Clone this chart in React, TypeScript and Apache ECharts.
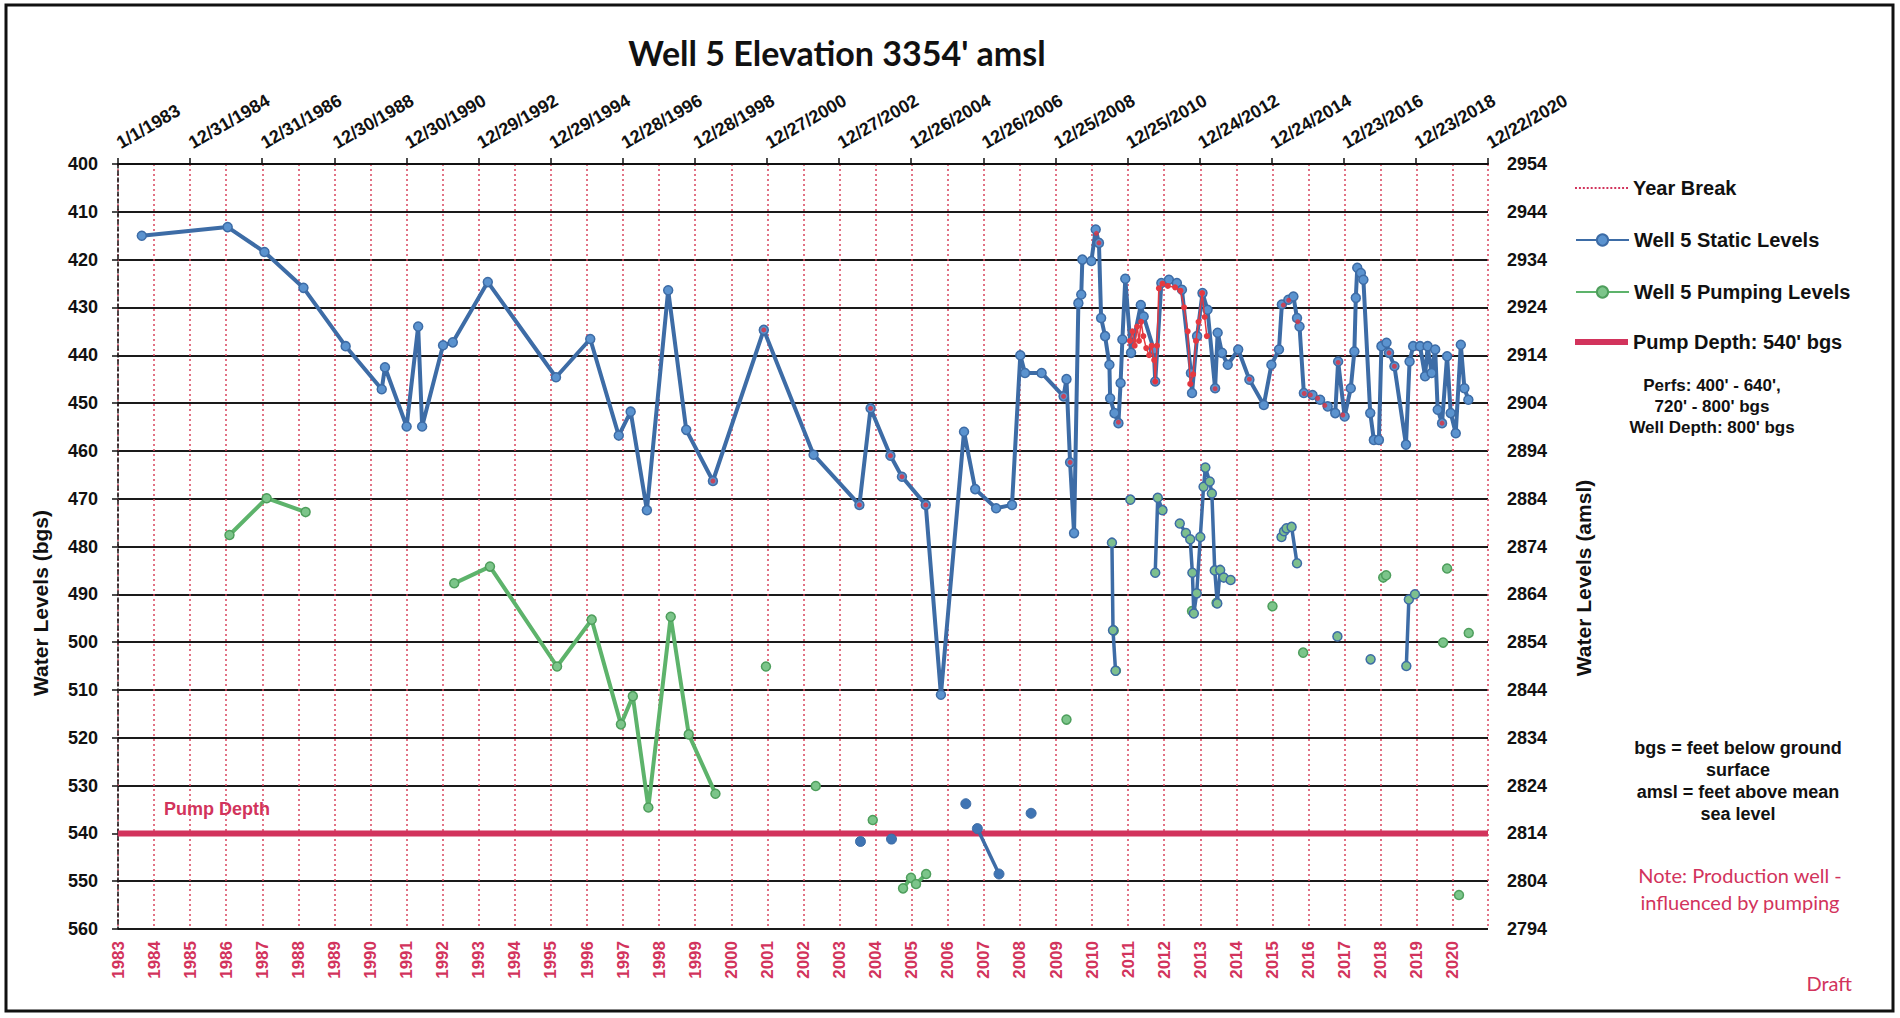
import React, { useEffect, useRef } from "react";
import * as echarts from "echarts";

// ---------- axis constants ----------
const X_MIN_DAYS = 0; // 1/1/1983
const X_MAX_DAYS = 13870; // 12/22/2020
const TOP_TICK_DAYS = 730;
const YEAR_DAYS = 365.25;
const BASE_YEAR = 1983;
const DEPTH_MIN = 400;
const DEPTH_MAX = 560;
const DEPTH_STEP = 10;
const ELEVATION = 3354;
const PUMP_DEPTH = 540;

// ---------- data (decimal year, depth bgs); null = gap ----------
const staticYears = [
  1983.66, 1986.04, 1987.06, 1988.14, 1989.31, 1990.31, 1990.4, 1991.0, 1991.32, 1991.43,
  1992.01, 1992.28, 1993.25, 1995.14, 1996.09, 1996.88, 1997.21, 1997.66, 1998.25, 1998.75,
  1999.49, 2000.9, 2002.28, 2003.55, 2003.86, 2004.41, 2004.73, 2005.39, 2005.81, 2006.45,
  2006.76, 2007.34, 2007.78, 2008.01, 2008.14, 2008.6, 2009.21, 2009.29, 2009.39, 2009.5,
  2009.62, 2009.7, 2009.73, 2009.98, 2010.1, 2010.19, 2010.25, 2010.36, 2010.48, 2010.5,
  2010.62, 2010.73, 2010.79, 2010.84, 2010.92, 2011.08, 2011.35, 2011.43, 2011.71, 2011.75,
  2011.92, 2012.13, 2012.35, 2012.49, 2012.74, 2012.77, 2012.91, 2013.06, 2013.2, 2013.41,
  2013.48, 2013.6, 2013.76, 2014.05, 2014.36, 2014.76, 2014.97, 2015.18, 2015.26, 2015.44,
  2015.58, 2015.68, 2015.75, 2015.87, 2016.11, 2016.32, 2016.53, 2016.74, 2016.82, 2017.0,
  2017.17, 2017.27, 2017.31, 2017.35, 2017.45, 2017.52, 2017.71, 2017.81, 2017.95, 2018.02,
  2018.16, 2018.23, 2018.38, 2018.7, 2018.8, 2018.9, 2019.09, 2019.23, 2019.3, 2019.41,
  2019.51, 2019.58, 2019.7, 2019.84, 2019.94, 2020.08, 2020.22, 2020.32, 2020.43,
];
const staticDepths = [
  415.0, 413.2, 418.4, 425.9, 438.1, 447.1, 442.5, 454.9, 434.0, 454.9,
  437.9, 437.3, 424.7, 444.6, 436.6, 456.8, 451.8, 472.4, 426.4, 455.6,
  466.3, 434.7, 460.8, 471.3, 451.1, 461.0, 465.4, 471.3, 511.0, 456.0,
  468.0, 472.0, 471.3, 440.0, 443.7, 443.7, 448.6, 445.0, 462.4, 477.2,
  429.1, 427.3, 420.0, 420.3, 413.7, 416.5, 432.2, 436.0, 442.0, 449.0,
  452.1, 454.2, 445.8, 436.7, 424.0, 439.5, 429.5, 431.9, 438.8, 445.5,
  424.9, 424.2, 424.9, 426.3, 443.7, 447.9, 436.0, 427.0, 430.5, 446.9,
  435.3, 439.5, 442.0, 438.8, 445.1, 450.4, 442.0, 438.8, 429.4, 428.4,
  427.7, 432.2, 434.0, 447.9, 448.3, 449.3, 450.7, 452.1, 441.3, 452.8,
  446.9, 439.2, 428.0, 421.7, 422.8, 424.2, 452.1, 457.7, 457.7, 438.1,
  437.4, 439.5, 442.3, 458.7, 441.3, 438.1, 438.1, 444.4, 438.1, 443.7,
  438.8, 451.4, 454.2, 440.2, 452.1, 456.3, 437.8, 446.9, 449.3,
];

const pumpingYears = [
  1986.09, 1987.12, 1988.2, null,
  1992.32, 1993.31, 1995.17, 1996.13, 1996.94, 1997.27, 1997.7, 1998.32, 1998.82, 1999.56, null,
  2000.96, null, 2002.34, null, 2003.92, null,
  2004.76, 2004.98, 2005.12, 2005.4, null,
  2009.29, null, 2010.6, null, 2010.66, null, 2012.77, null, 2013.45, null,
  2015.0, null, 2015.85, null, 2018.07, 2018.15, null, 2019.73, null, 2019.84, null,
  2020.17, null, 2020.44,
];
const pumpingDepths = [
  477.6, 469.9, 472.8, null,
  487.7, 484.2, 505.1, 495.3, 517.2, 511.3, 534.6, 494.7, 519.3, 531.7, null,
  505.1, null, 530.1, null, 537.2, null,
  551.5, 549.3, 550.6, 548.5, null,
  516.2, null, 497.6, null, 506.0, null, 493.5, null, 491.8, null,
  492.5, null, 502.2, null, 486.5, 486.0, null, 500.1, null, 484.6, null,
  552.9, null, 498.1,
];

// blue static readings taken below the main static trace
const lowStaticYears = [2003.58, null, 2004.44, null, 2006.5, null, 2006.82, 2007.42, null, 2008.31];
const lowStaticDepths = [541.7, null, 541.2, null, 533.8, null, 539.0, 548.5, null, 535.8];

// recent drawdown readings (blue trace, green markers)
const recentYears = [
  2010.55, 2010.58, 2010.65, null, 2011.06, null,
  2011.75, 2011.82, 2011.95, null,
  2012.43, 2012.6, 2012.72, 2012.78, 2012.82, 2012.9, 2013.0, 2013.09, 2013.14, 2013.26,
  2013.32, 2013.4, 2013.47, 2013.55, 2013.65, 2013.84, null,
  2015.25, 2015.32, 2015.39, 2015.53, 2015.68, null,
  2016.8, null, 2017.72, null, 2018.71, 2018.78, 2018.95,
];
const recentDepths = [
  479.2, 497.5, 506.0, null, 470.2, null,
  485.5, 469.8, 472.4, null,
  475.2, 477.2, 478.5, 485.5, 494.0, 489.8, 478.0, 467.5, 463.5, 466.4,
  468.9, 485.0, 491.9, 484.9, 486.5, 487.0, null,
  478.0, 476.8, 476.2, 475.9, 483.5, null,
  498.8, null, 503.6, null, 505.0, 491.1, 490.0,
];

// red overlay trace 2011-2013
const overlayYears = [
  2011.05, 2011.12, 2011.18, 2011.25, 2011.3, 2011.36, 2011.42, 2011.5, 2011.58, 2011.65,
  2011.72, 2011.75, 2011.8, 2011.85, 2011.95, 2012.1, 2012.3, 2012.45, 2012.55, 2012.65,
  2012.72, 2012.8, 2012.88, 2012.95, 2013.05, 2013.12, 2013.18,
];
const overlayDepths = [
  437, 435, 438, 434, 437, 433, 436, 438.5, 440, 438,
  441, 445.5, 438, 426, 425, 425.5, 425.8, 426.5, 430, 435,
  446, 444, 437, 433, 427, 432, 436,
];

// red-marked readings
const redYears = [
  1999.49, 2000.9, 2003.55, 2003.86, 2004.41, 2004.73, 2005.39, 2009.21, 2009.39, 2010.12,
  2010.19, 2010.73, 2011.75, 2012.74, 2013.41, 2014.36, 2015.3, 2015.45, 2015.7, 2015.88,
  2016.05, 2016.25, 2016.45, 2016.82, 2016.95, 2018.23, 2018.38, 2019.7,
];
const redDepths = [
  466.3, 434.7, 471.3, 451.1, 461.0, 465.4, 471.3, 448.6, 462.4, 414.5,
  416.5, 454.0, 445.5, 446.0, 447.0, 445.0, 429.5, 428.5, 433.0, 448.0,
  448.3, 449.0, 450.5, 441.5, 452.5, 439.5, 442.3, 454.2,
];

const legendNames = [
  "Year Break",
  "Well 5 Static Levels",
  "Well 5 Pumping Levels",
  "Pump Depth: 540' bgs",
];

// ---------- helpers ----------
const toDays = (y: number) => (y - BASE_YEAR) * YEAR_DAYS;
const pairs = (ys: (number | null)[], ds: (number | null)[]) =>
  ys.map((y, i) => (y == null || ds[i] == null ? ["-", "-"] : [toDays(y), ds[i]]));

const fmtDate = (v: number) => {
  const d = new Date(Date.UTC(BASE_YEAR, 0, 1) + Math.round(v) * 86400000);
  return `${d.getUTCMonth() + 1}/${d.getUTCDate()}/${d.getUTCFullYear()}`;
};

let dotPath = "";
for (let i = 0; i < 14; i++) dotPath += `M${i * 4},0h2v2h-2z`;
const DOT_ICON = "path://" + dotPath;

const RED = "#D2335C";
const BLUE = "#3D6CA6";
const GREEN = "#5DB36B";
const ARIAL = '"Liberation Sans", Arial, sans-serif';
const CAL = 'Lato, "Open Sans", sans-serif';

export default function App() {
  const ref = useRef<HTMLDivElement>(null);

  useEffect(() => {
    document.body.style.margin = "0";
    if (!ref.current) return;
    const chart = echarts.init(ref.current, null, { renderer: "svg" });

    const legendTops = [172, 224, 276, 326];
    const legendCfg: any[] = [
      { data: [{ name: legendNames[0], icon: DOT_ICON }], itemHeight: 3 },
      { data: [legendNames[1]], itemHeight: 14 },
      { data: [legendNames[2]], itemHeight: 14 },
      { data: [{ name: legendNames[3], icon: "rect" }], itemHeight: 6 },
    ];

    const option: any = {
      animation: false,
      backgroundColor: "#ffffff",
      title: {
        text: "Well 5 Elevation 3354' amsl",
        left: 832,
        top: 30,
        textAlign: "center",
        textStyle: { fontFamily: CAL, fontWeight: "bold", fontSize: 34, color: "#111" },
      },
      legend: legendCfg.map((c, i) => ({
        ...c,
        left: 1570,
        top: legendTops[i] + (22 - Math.max(c.itemHeight, 22)) / 2,
        itemWidth: 53,
        itemGap: 5,
        selectedMode: false,
        textStyle: { fontFamily: ARIAL, fontWeight: "bold", fontSize: 20, color: "#111", lineHeight: 22 },
      })),
      grid: { left: 118, right: 412, top: 164, bottom: 89, containLabel: false },
      xAxis: [
        {
          type: "value",
          position: "bottom",
          min: X_MIN_DAYS,
          max: X_MAX_DAYS,
          interval: YEAR_DAYS,
          axisLine: { show: false },
          axisTick: { show: false },
          axisLabel: {
            rotate: 90,
            margin: 12,
            color: RED,
            fontFamily: ARIAL,
            fontWeight: "bold",
            fontSize: 17,
            showMaxLabel: false,
            formatter: (v: number) => String(Math.round(BASE_YEAR + v / YEAR_DAYS)),
          },
          splitLine: { show: true, lineStyle: { color: "#D9455F", width: 1.5, type: [2, 3] } },
        },
        {
          type: "value",
          position: "top",
          min: X_MIN_DAYS,
          max: X_MAX_DAYS,
          interval: TOP_TICK_DAYS,
          axisLine: { show: true, onZero: false, lineStyle: { color: "#111", width: 2 } },
          axisTick: { show: true, length: 6, lineStyle: { color: "#111", width: 1.5 } },
          axisLabel: {
            rotate: -30,
            margin: 20,
            color: "#111",
            fontFamily: ARIAL,
            fontWeight: "bold",
            fontSize: 18,
            formatter: (v: number) => fmtDate(v),
          },
          splitLine: { show: false },
        },
      ],
      yAxis: [
        {
          type: "value",
          inverse: true,
          min: DEPTH_MIN,
          max: DEPTH_MAX,
          interval: DEPTH_STEP,
          position: "left",
          axisLine: { show: true, onZero: false, lineStyle: { color: "#111", width: 1.5, type: [4, 3] } },
          axisTick: { show: true, length: 6, lineStyle: { color: "#111", width: 1.5 } },
          axisLabel: { margin: 20, color: "#111", fontFamily: ARIAL, fontWeight: "bold", fontSize: 18 },
          splitLine: { show: true, lineStyle: { color: "#1a1a1a", width: 2 } },
        },
        {
          type: "value",
          inverse: true,
          min: DEPTH_MIN,
          max: DEPTH_MAX,
          interval: DEPTH_STEP,
          position: "right",
          axisLine: { show: false },
          axisTick: { show: false },
          axisLabel: {
            margin: 19,
            color: "#111",
            fontFamily: ARIAL,
            fontWeight: "bold",
            fontSize: 18,
            formatter: (v: number) => String(ELEVATION - v),
          },
          splitLine: { show: false },
        },
      ],
      series: [
        {
          name: "Year Break",
          type: "line",
          data: [],
          symbol: "none",
          lineStyle: { color: RED, width: 2, type: [2, 3] },
          itemStyle: { color: RED },
        },
        {
          name: "Pump Depth: 540' bgs",
          type: "line",
          data: [
            [X_MIN_DAYS, PUMP_DEPTH],
            [X_MAX_DAYS, PUMP_DEPTH],
          ],
          symbol: "none",
          lineStyle: { color: RED, width: 6 },
          itemStyle: { color: RED },
          z: 2,
        },
        {
          name: "Well 5 Static Levels",
          type: "line",
          data: pairs(staticYears, staticDepths),
          symbol: "circle",
          symbolSize: 9,
          showAllSymbol: true,
          lineStyle: { color: BLUE, width: 4 },
          itemStyle: { color: "#5B93CF", borderColor: BLUE, borderWidth: 1.5 },
          z: 4,
        },
        {
          name: "Well 5 Static Levels (overlay)",
          type: "line",
          data: pairs(overlayYears, overlayDepths),
          symbol: "circle",
          symbolSize: 6,
          showAllSymbol: true,
          lineStyle: { color: "#E53940", width: 1.5 },
          itemStyle: { color: "#E53940" },
          z: 5,
        },
        {
          name: "Well 5 Static Levels (low)",
          type: "line",
          data: pairs(lowStaticYears, lowStaticDepths),
          symbol: "circle",
          symbolSize: 10,
          showAllSymbol: true,
          lineStyle: { color: BLUE, width: 3.5 },
          itemStyle: { color: "#3F74B3", borderColor: BLUE, borderWidth: 1 },
          z: 4,
        },
        {
          name: "Well 5 Pumping Levels",
          type: "line",
          data: pairs(pumpingYears, pumpingDepths),
          symbol: "circle",
          symbolSize: 9,
          showAllSymbol: true,
          lineStyle: { color: GREEN, width: 4 },
          itemStyle: { color: "#7CC58A", borderColor: "#4E9E5C", borderWidth: 1.5 },
          z: 3,
        },
        {
          name: "Well 5 Recent Levels",
          type: "line",
          data: pairs(recentYears, recentDepths),
          symbol: "circle",
          symbolSize: 9,
          showAllSymbol: true,
          lineStyle: { color: BLUE, width: 3.5 },
          itemStyle: { color: "#7DBF8E", borderColor: BLUE, borderWidth: 1.5 },
          z: 4,
        },
        {
          name: "Red readings",
          type: "scatter",
          data: pairs(redYears, redDepths),
          symbol: "circle",
          symbolSize: 5,
          itemStyle: { color: "#E0323F" },
          z: 6,
        },
      ],
      graphic: [
        {
          type: "rect",
          silent: true,
          shape: { x: 6, y: 5, width: 1887, height: 1006 },
          style: { fill: "none", stroke: "#111", lineWidth: 3 },
        },
        {
          type: "text",
          silent: true,
          x: 40,
          y: 603,
          rotation: Math.PI / 2,
          style: {
            text: "Water Levels (bgs)",
            fill: "#111",
            font: `bold 21px ${ARIAL}`,
            textAlign: "center",
            textVerticalAlign: "middle",
            align: "center",
            verticalAlign: "middle",
          },
        },
        {
          type: "text",
          silent: true,
          x: 1583,
          y: 578,
          rotation: Math.PI / 2,
          style: {
            text: "Water Levels (amsl)",
            fill: "#111",
            font: `bold 21px ${ARIAL}`,
            textAlign: "center",
            textVerticalAlign: "middle",
            align: "center",
            verticalAlign: "middle",
          },
        },
        {
          type: "text",
          silent: true,
          x: 1712,
          y: 406,
          style: {
            text: "Perfs: 400' - 640',\n720' - 800' bgs\nWell Depth: 800' bgs",
            fill: "#111",
            font: `bold 17px ${ARIAL}`,
            lineHeight: 21,
            textAlign: "center",
            textVerticalAlign: "middle",
            align: "center",
            verticalAlign: "middle",
          },
        },
        {
          type: "text",
          silent: true,
          x: 1738,
          y: 781,
          style: {
            text: "bgs = feet below ground\nsurface\namsl = feet above mean\nsea level",
            fill: "#111",
            font: `bold 18px ${ARIAL}`,
            lineHeight: 22,
            textAlign: "center",
            textVerticalAlign: "middle",
            align: "center",
            verticalAlign: "middle",
          },
        },
        {
          type: "text",
          silent: true,
          x: 1740,
          y: 888,
          style: {
            text: "Note: Production well -\ninfluenced by pumping",
            fill: RED,
            font: `20px ${CAL}`,
            lineHeight: 27,
            textAlign: "center",
            textVerticalAlign: "middle",
            align: "center",
            verticalAlign: "middle",
          },
        },
        {
          type: "text",
          silent: true,
          x: 1852,
          y: 983,
          style: {
            text: "Draft",
            fill: RED,
            font: `20px ${CAL}`,
            textAlign: "right",
            textVerticalAlign: "middle",
            align: "right",
            verticalAlign: "middle",
          },
        },
        {
          type: "text",
          silent: true,
          x: 164,
          y: 809,
          style: {
            text: "Pump Depth",
            fill: RED,
            font: `bold 18px ${ARIAL}`,
            textAlign: "left",
            textVerticalAlign: "middle",
            align: "left",
            verticalAlign: "middle",
          },
        },
      ],
    };

    chart.setOption(option);
    return () => chart.dispose();
  }, []);

  return <div ref={ref} style={{ width: 1900, height: 1018 }} />;
}
